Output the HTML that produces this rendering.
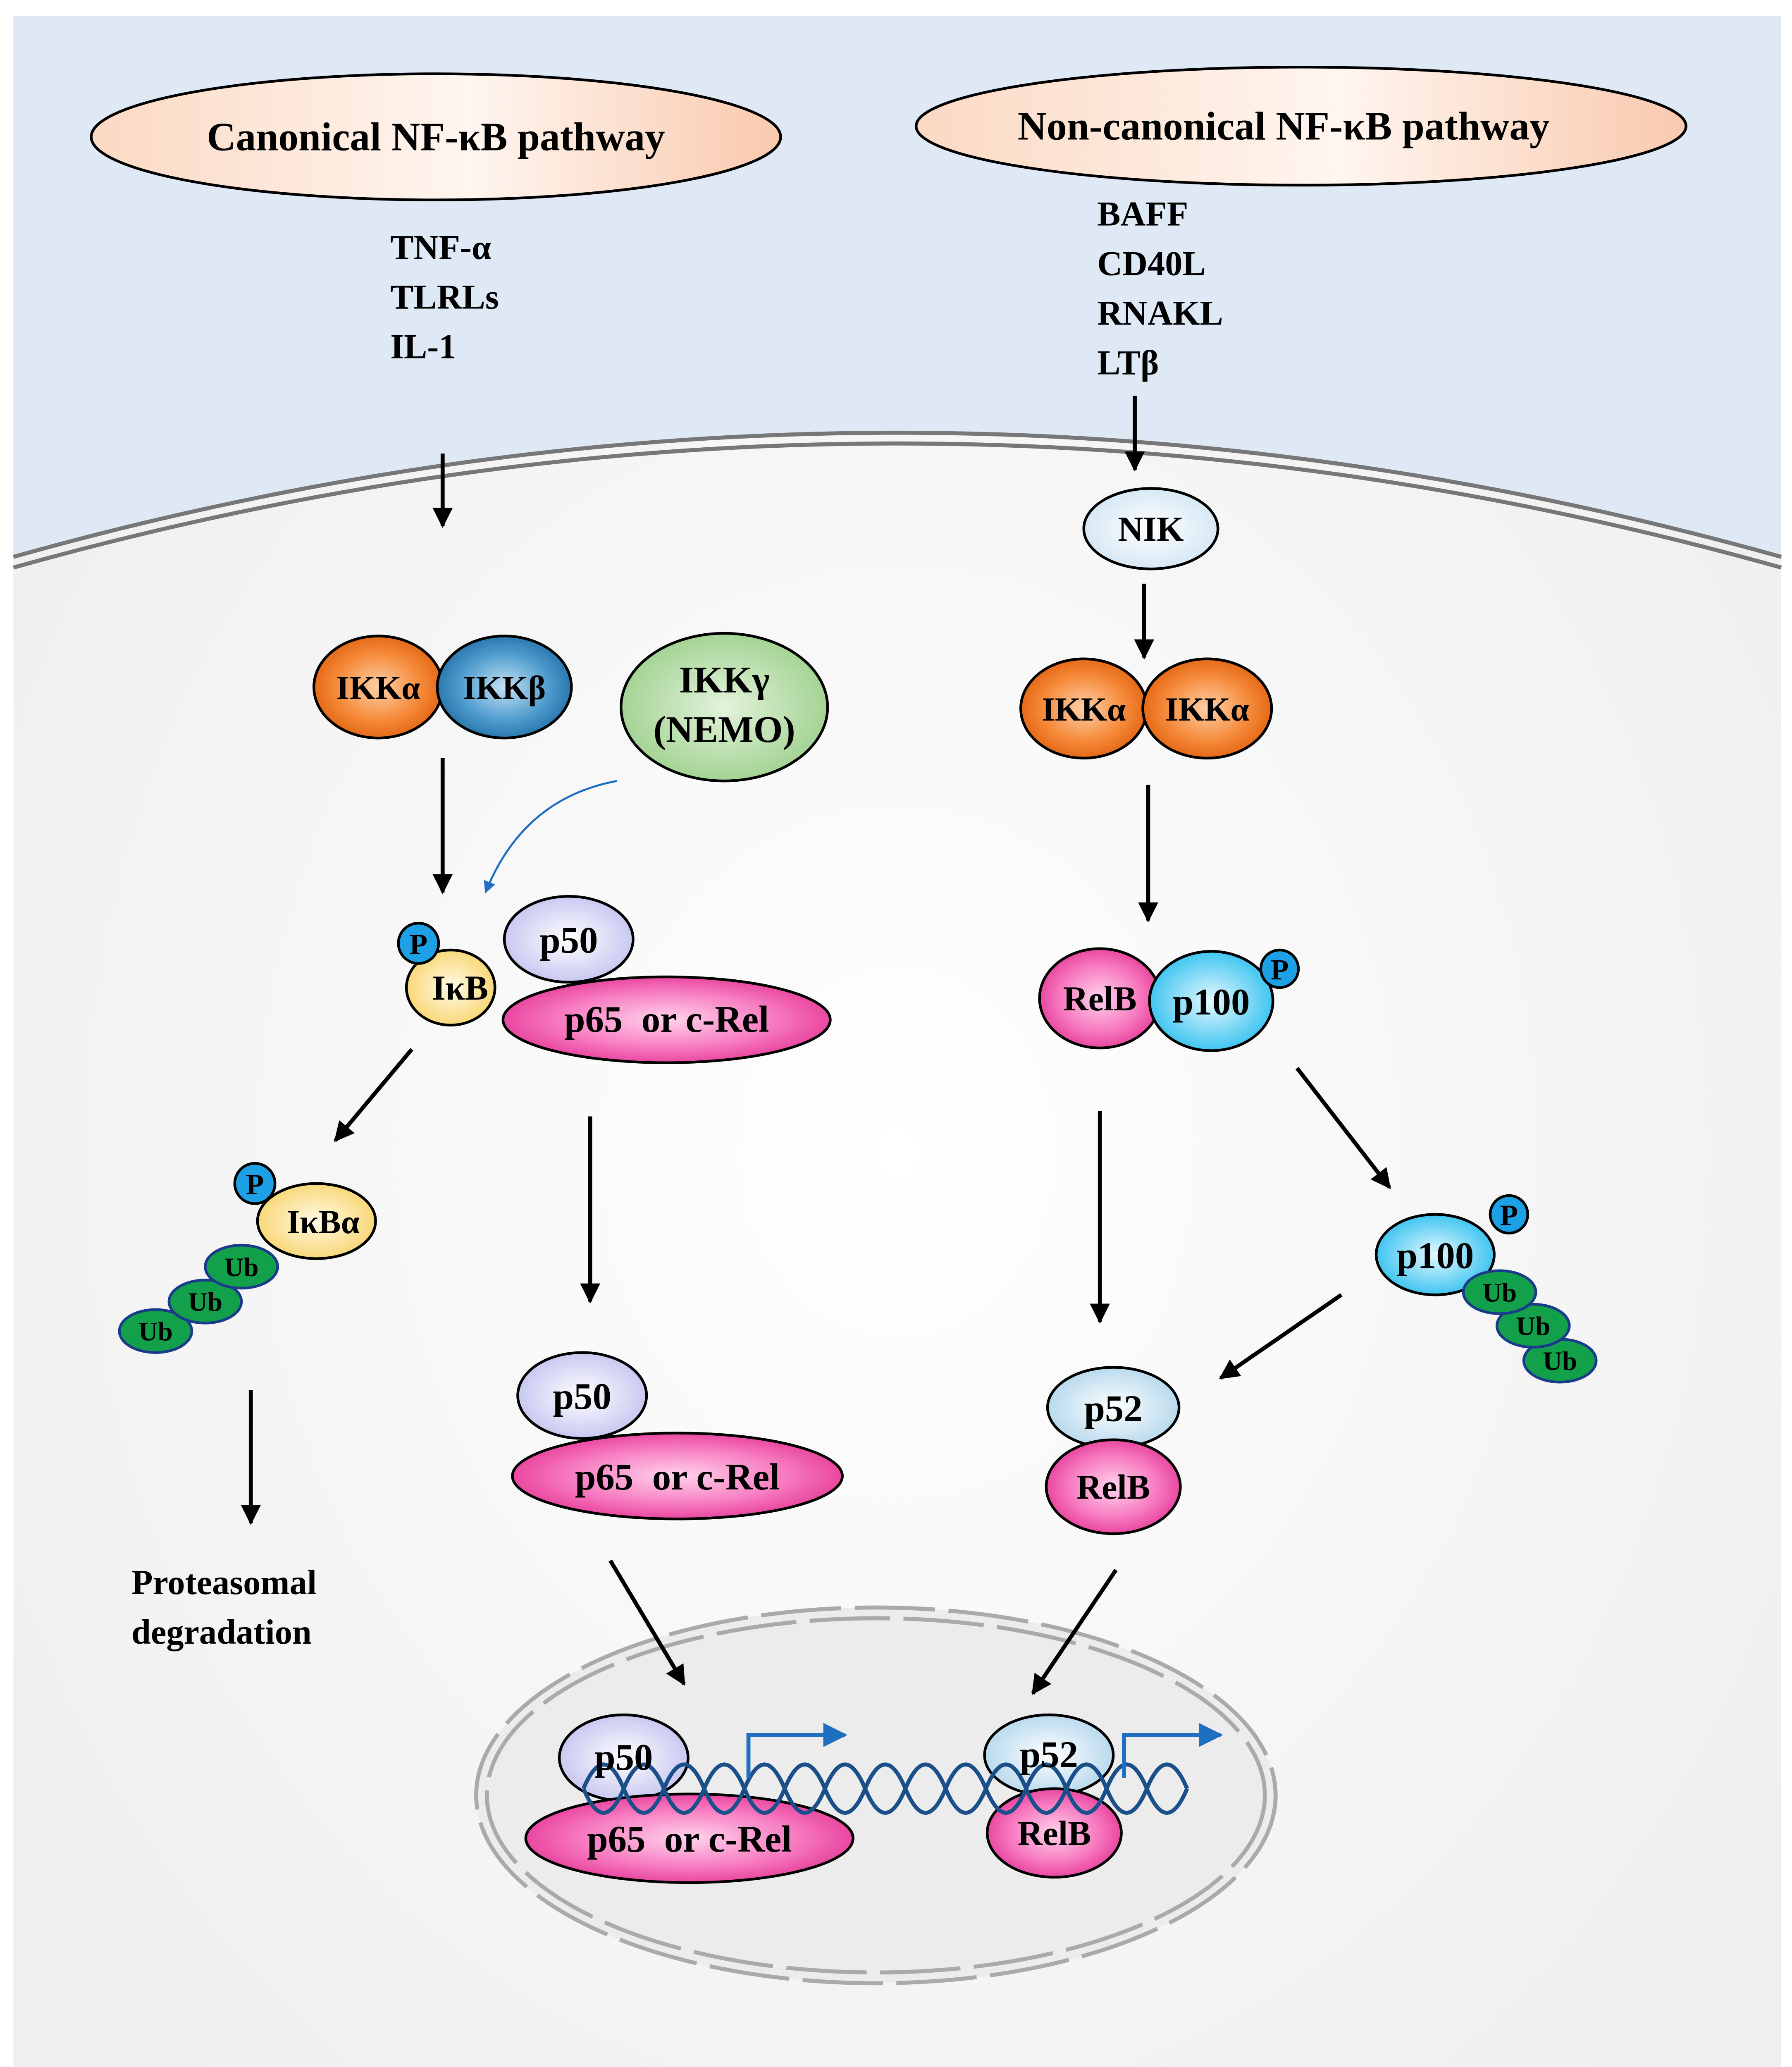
<!DOCTYPE html>
<html><head><meta charset="utf-8"><style>
html,body{margin:0;padding:0;background:#fff;width:4335px;height:5057px;overflow:hidden}
svg{display:block;position:absolute;left:0;top:0}
text{font-family:"Liberation Serif",serif;font-weight:bold;fill:#000}
</style></head><body>
<svg width="4335" height="5057" viewBox="0 0 1336 1558" preserveAspectRatio="none" xmlns="http://www.w3.org/2000/svg">
<defs>
<linearGradient id="peach" x1="0" y1="0" x2="1" y2="0"><stop offset="0" stop-color="#fbd9c3"/><stop offset="0.55" stop-color="#fff6f0"/><stop offset="1" stop-color="#f9c9ad"/></linearGradient>
<radialGradient id="cell" cx="0.5" cy="0.55" r="0.6"><stop offset="0" stop-color="#ffffff"/><stop offset="1" stop-color="#efefef"/></radialGradient>
<radialGradient id="orange" cx="0.5" cy="0.5" r="0.55"><stop offset="0" stop-color="#ffd0a8"/><stop offset="0.6" stop-color="#f58a3a"/><stop offset="1" stop-color="#e0600c"/></radialGradient>
<radialGradient id="blue" cx="0.5" cy="0.5" r="0.55"><stop offset="0" stop-color="#c4e2f4"/><stop offset="0.6" stop-color="#4f9cce"/><stop offset="1" stop-color="#1f6fa6"/></radialGradient>
<radialGradient id="green" cx="0.5" cy="0.5" r="0.55"><stop offset="0" stop-color="#e3f3dc"/><stop offset="1" stop-color="#9ed08d"/></radialGradient>
<radialGradient id="lav" cx="0.5" cy="0.5" r="0.55"><stop offset="0" stop-color="#ffffff"/><stop offset="1" stop-color="#c3c3f0"/></radialGradient>
<radialGradient id="pink" cx="0.5" cy="0.5" r="0.55"><stop offset="0" stop-color="#ffd3ec"/><stop offset="0.6" stop-color="#f77ac0"/><stop offset="1" stop-color="#e53896"/></radialGradient>
<radialGradient id="yellow" cx="0.5" cy="0.5" r="0.55"><stop offset="0" stop-color="#fffbe6"/><stop offset="1" stop-color="#f8d46e"/></radialGradient>
<radialGradient id="cyan" cx="0.5" cy="0.5" r="0.55"><stop offset="0" stop-color="#e6f8ff"/><stop offset="1" stop-color="#2fc0ef"/></radialGradient>
<radialGradient id="lblue" cx="0.5" cy="0.5" r="0.55"><stop offset="0" stop-color="#ffffff"/><stop offset="1" stop-color="#b2d6ec"/></radialGradient>
<radialGradient id="nik" cx="0.5" cy="0.5" r="0.55"><stop offset="0" stop-color="#ffffff"/><stop offset="1" stop-color="#d2e6f4"/></radialGradient>
<marker id="ah" viewBox="0 0 10 10" refX="9" refY="5" markerWidth="5" markerHeight="5" orient="auto"><path d="M0,0L10,5L0,10z" fill="#000"/></marker>
<marker id="ahb" viewBox="0 0 10 10" refX="9" refY="5" markerWidth="6" markerHeight="6" orient="auto"><path d="M0,0L10,5L0,10z" fill="#1f6fc0"/></marker>
</defs>
<rect x="0" y="0" width="1336" height="1558" fill="#fff"/>
<rect x="10" y="12" width="1318" height="1540" fill="url(#cell)"/>
<path d="M10,12H1328V415Q668,230 10,415Z" fill="#dfe9f6"/>
<path d="M10,415Q668,230 1328,415" fill="none" stroke="#777" stroke-width="3"/>
<path d="M10,423Q668,238 1328,423" fill="none" stroke="#777" stroke-width="3"/>

<ellipse cx="653" cy="1338" rx="298" ry="140" fill="#ececec"/>
<ellipse cx="653" cy="1338" rx="298" ry="140" fill="none" stroke="#aaa" stroke-width="3" stroke-dasharray="60 10"/>
<ellipse cx="653" cy="1338" rx="290" ry="132" fill="none" stroke="#aaa" stroke-width="3" stroke-dasharray="60 10"/>

<ellipse cx="325" cy="102" rx="257" ry="47" fill="url(#peach)" stroke="#000" stroke-width="2"/>
<text x="325" y="112" font-size="30" text-anchor="middle">Canonical NF-κB pathway</text>
<ellipse cx="970" cy="94" rx="287" ry="44" fill="url(#peach)" stroke="#000" stroke-width="2"/>
<text x="957" y="104" font-size="30" text-anchor="middle">Non-canonical NF-κB pathway</text>

<g font-size="26"><text x="291" y="193">TNF-α</text><text x="291" y="230">TLRLs</text><text x="291" y="267">IL-1</text>
<text x="818" y="168">BAFF</text><text x="818" y="205">CD40L</text><text x="818" y="242">RNAKL</text><text x="818" y="279">LTβ</text></g>

<g stroke="#000" stroke-width="3" marker-end="url(#ah)">
<line x1="330" y1="338" x2="330" y2="392"/>
<line x1="846" y1="295" x2="846" y2="350"/>
<line x1="853" y1="435" x2="853" y2="490"/>
<line x1="330" y1="565" x2="330" y2="665"/>
<line x1="856" y1="585" x2="856" y2="686"/>
<line x1="307" y1="782" x2="250" y2="850"/>
<line x1="440" y1="832" x2="440" y2="970"/>
<line x1="187" y1="1036" x2="187" y2="1135"/>
<line x1="455" y1="1163" x2="510" y2="1255"/>
<line x1="820" y1="828" x2="820" y2="985"/>
<line x1="967" y1="796" x2="1036" y2="885"/>
<line x1="1000" y1="965" x2="910" y2="1027"/>
<line x1="832" y1="1170" x2="770" y2="1262"/>
</g>
<path d="M460,582Q390,595 362,665" fill="none" stroke="#1f6fc0" stroke-width="1.5" marker-end="url(#ahb)"/>

<g stroke="#000" stroke-width="2">
<ellipse cx="858" cy="394" rx="50" ry="30" fill="url(#nik)"/>
<ellipse cx="282" cy="512" rx="48" ry="38" fill="url(#orange)"/>
<ellipse cx="376" cy="512" rx="50" ry="38" fill="url(#blue)"/>
<ellipse cx="540" cy="527" rx="77" ry="55" fill="url(#green)"/>
<ellipse cx="808" cy="528" rx="47" ry="37" fill="url(#orange)"/>
<ellipse cx="900" cy="528" rx="48" ry="37" fill="url(#orange)"/>
<ellipse cx="424" cy="700" rx="48" ry="32" fill="url(#lav)"/>
<ellipse cx="497" cy="760" rx="122" ry="32" fill="url(#pink)"/>
<ellipse cx="336" cy="736" rx="33" ry="28" fill="url(#yellow)"/>
<circle cx="312" cy="703" r="15" fill="#1ea0e6"/>
<circle cx="190" cy="882" r="15" fill="#1ea0e6"/>
<ellipse cx="236" cy="910" rx="44" ry="28" fill="url(#yellow)"/>
<ellipse cx="116" cy="992" rx="27" ry="16" fill="#12a04a" stroke="#1a3a8a"/>
<ellipse cx="153" cy="970" rx="27" ry="16" fill="#12a04a" stroke="#1a3a8a"/>
<ellipse cx="180" cy="944" rx="27" ry="16" fill="#12a04a" stroke="#1a3a8a"/>
<ellipse cx="434" cy="1040" rx="48" ry="32" fill="url(#lav)"/>
<ellipse cx="505" cy="1100" rx="123" ry="32" fill="url(#pink)"/>
<ellipse cx="820" cy="744" rx="45" ry="37" fill="url(#pink)"/>
<ellipse cx="903" cy="746" rx="46" ry="37" fill="url(#cyan)"/>
<circle cx="954" cy="722" r="14" fill="#1ea0e6"/>
<ellipse cx="1070" cy="935" rx="44" ry="30" fill="url(#cyan)"/>
<circle cx="1125" cy="905" r="14" fill="#1ea0e6"/>
<ellipse cx="1163" cy="1014" rx="27" ry="16" fill="#12a04a" stroke="#1a3a8a"/>
<ellipse cx="1143" cy="988" rx="27" ry="16" fill="#12a04a" stroke="#1a3a8a"/>
<ellipse cx="1118" cy="963" rx="27" ry="16" fill="#12a04a" stroke="#1a3a8a"/>
<ellipse cx="830" cy="1049" rx="49" ry="30" fill="url(#lblue)"/>
<ellipse cx="830" cy="1108" rx="50" ry="35" fill="url(#pink)"/>
</g>

<g stroke="#000" stroke-width="2">
<ellipse cx="465" cy="1310" rx="48" ry="32" fill="url(#lav)"/>
<ellipse cx="514" cy="1370" rx="122" ry="33" fill="url(#pink)"/>
<ellipse cx="782" cy="1308" rx="48" ry="30" fill="url(#lblue)"/>
<ellipse cx="786" cy="1366" rx="50" ry="33" fill="url(#pink)"/>
</g>
<path d="M435,1333 q15,-36 30,0 t30,0 t30,0 t30,0 t30,0 t30,0 t30,0 t30,0 t30,0 t30,0 t30,0 t30,0 t30,0 t30,0 t30,0" fill="none" stroke="#1a4f8a" stroke-width="3"/>
<path d="M435,1333 q15,36 30,0 t30,0 t30,0 t30,0 t30,0 t30,0 t30,0 t30,0 t30,0 t30,0 t30,0 t30,0 t30,0 t30,0 t30,0" fill="none" stroke="#1a4f8a" stroke-width="3"/>
<path d="M558,1325V1293H630" fill="none" stroke="#1f6fc0" stroke-width="3" marker-end="url(#ahb)"/>
<path d="M838,1325V1293H910" fill="none" stroke="#1f6fc0" stroke-width="3" marker-end="url(#ahb)"/>

<g font-size="28" text-anchor="middle">
<text x="858" y="403" font-size="26">NIK</text>
<text x="282" y="521" font-size="25">IKKα</text>
<text x="376" y="521" font-size="25">IKKβ</text>
<text x="540" y="516">IKKγ</text>
<text x="540" y="553">(NEMO)</text>
<text x="808" y="537" font-size="25">IKKα</text>
<text x="900" y="537" font-size="25">IKKα</text>
<text x="424" y="710">p50</text>
<text x="497" y="769">p65&#160; or c-Rel</text>
<text x="343" y="745" font-size="26">IκB</text>
<text x="312" y="711" font-size="22">P</text>
<text x="190" y="890" font-size="22">P</text>
<text x="241" y="919" font-size="25">IκBα</text>
<g font-size="20"><text x="116" y="999">Ub</text><text x="153" y="977">Ub</text><text x="180" y="951">Ub</text>
<text x="1163" y="1021">Ub</text><text x="1143" y="995">Ub</text><text x="1118" y="970">Ub</text></g>
<text x="434" y="1050">p50</text>
<text x="505" y="1110">p65&#160; or c-Rel</text>
<text x="820" y="753" font-size="26">RelB</text>
<text x="903" y="756">p100</text>
<text x="954" y="730" font-size="22">P</text>
<text x="1070" y="945">p100</text>
<text x="1125" y="913" font-size="22">P</text>
<text x="830" y="1059">p52</text>
<text x="830" y="1117" font-size="26">RelB</text>
<text x="465" y="1319">p50</text>
<text x="514" y="1380">p65&#160; or c-Rel</text>
<text x="782" y="1317">p52</text>
<text x="786" y="1375" font-size="26">RelB</text>
</g>
<g font-size="26"><text x="98" y="1188">Proteasomal</text><text x="98" y="1225">degradation</text></g>
</svg>
</body></html>
